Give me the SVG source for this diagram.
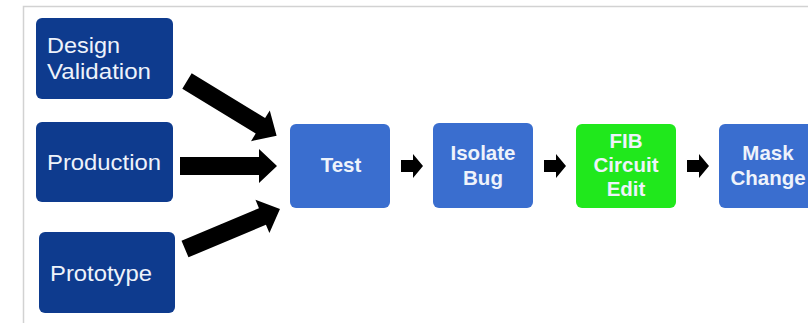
<svg xmlns="http://www.w3.org/2000/svg" width="808" height="323" viewBox="0 0 808 323">
<style>
.dark{fill:#0e3b8e}
.mid{fill:#3a6ecf}
.green{fill:#20e81c}
.reg{font-family:"Liberation Sans",Arial,sans-serif;font-size:22px;fill:#eef3fb}
.bold{font-family:"Liberation Sans",Arial,sans-serif;font-size:20.5px;font-weight:bold;fill:#eef3fb;text-anchor:middle}
.arr{fill:#000}
</style>
<rect x="0" y="0" width="808" height="323" fill="#fff"/>
<path d="M23.5,323 V6.5 H808" fill="none" stroke="#d2d2d2" stroke-width="1.5"/>
<g id="design-validation">
<rect class="dark" x="36" y="18" width="137" height="81" rx="6"/>
<text class="reg" x="47" y="53" textLength="73" lengthAdjust="spacingAndGlyphs">Design</text>
<text class="reg" x="47" y="79" textLength="104" lengthAdjust="spacingAndGlyphs">Validation</text>
</g>
<g id="production">
<rect class="dark" x="36" y="122" width="137" height="80" rx="6"/>
<text class="reg" x="47" y="170" textLength="114" lengthAdjust="spacingAndGlyphs">Production</text>
</g>
<g id="prototype">
<rect class="dark" x="39" y="232" width="136" height="81" rx="6"/>
<text class="reg" x="50" y="281" textLength="102" lengthAdjust="spacingAndGlyphs">Prototype</text>
</g>
<g id="test">
<rect class="mid" x="290" y="124" width="100" height="84" rx="6"/>
<text class="bold" x="341" y="172">Test</text>
</g>
<g id="isolate-bug">
<rect class="mid" x="433" y="123" width="100" height="85" rx="6"/>
<text class="bold" x="483" y="160">Isolate</text>
<text class="bold" x="483" y="185">Bug</text>
</g>
<g id="fib-circuit-edit">
<rect class="green" x="576" y="124" width="100" height="84" rx="6"/>
<text class="bold" x="626" y="148">FIB</text>
<text class="bold" x="626" y="172">Circuit</text>
<text class="bold" x="626" y="196">Edit</text>
</g>
<g id="mask-change">
<rect class="mid" x="719" y="124" width="100" height="84" rx="6"/>
<text class="bold" x="768" y="160">Mask</text>
<text class="bold" x="768" y="185">Change</text>
</g>
<g id="connectors" class="arr">
<polygon transform="translate(187,81) rotate(31.4)" points="0,-9 86,-9 86,-18 105,0 86,18 86,9 0,9"/>
<polygon transform="translate(180,166)" points="0,-9 79,-9 79,-17 97,0 79,17 79,9 0,9"/>
<polygon transform="translate(185,249) rotate(-22.8)" points="0,-9 84,-9 84,-18 103,0 84,18 84,9 0,9"/>
<polygon transform="translate(401,166)" points="0,-6 12,-6 12,-12 22,0 12,12 12,6 0,6"/>
<polygon transform="translate(544,166)" points="0,-6 12,-6 12,-12 22,0 12,12 12,6 0,6"/>
<polygon transform="translate(687,166)" points="0,-6 12,-6 12,-12 22,0 12,12 12,6 0,6"/>
</g>
</svg>
